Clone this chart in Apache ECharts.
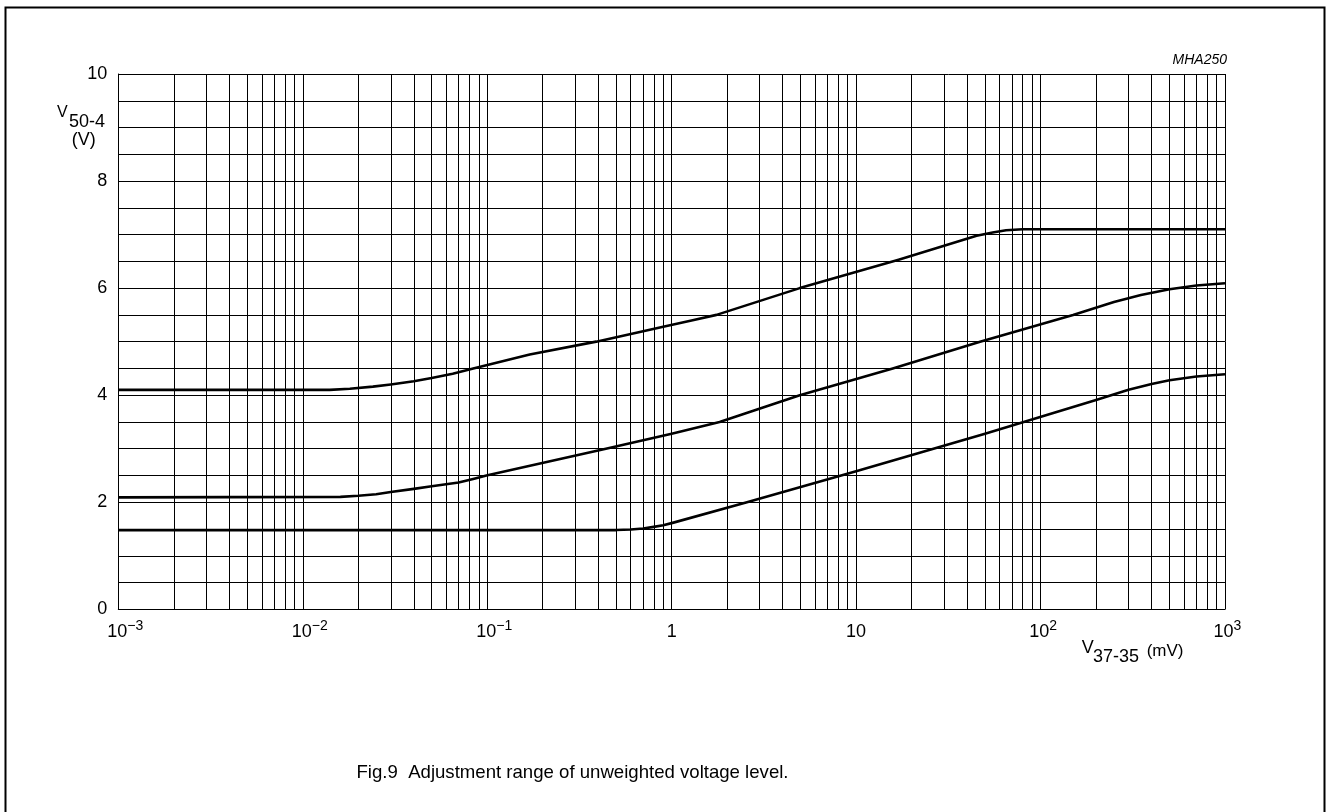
<!DOCTYPE html>
<html>
<head>
<meta charset="utf-8">
<script src="https://cdn.jsdelivr.net/npm/echarts@6/dist/echarts.min.js"></script>
<style>
html,body{margin:0;padding:0;background:#fff;}
#chart{width:1327px;height:812px;}
</style>
</head>
<body>
<div id="chart"></div>
<script>
// ---- data (x in mV, y in V) ----
var curveTopX = [0.001, 0.014, 0.018, 0.024, 0.03, 0.04, 0.05, 0.065, 0.084, 0.17, 0.39, 0.9, 1.3, 1.75, 4.95, 17, 45, 55, 65, 80, 1000];
var curveTopY = [4.10, 4.10, 4.12, 4.16, 4.20, 4.26, 4.32, 4.40, 4.50, 4.76, 5.00, 5.28, 5.40, 5.50, 6.00, 6.53, 6.98, 7.04, 7.08, 7.10, 7.10];

var curveMidX = [0.001, 0.016, 0.02, 0.025, 0.03, 0.04, 0.05, 0.07, 0.085, 0.099, 0.44, 1.0, 1.82, 4.95, 15.8, 47, 150, 250, 350, 500, 700, 1000];
var curveMidY = [2.09, 2.10, 2.12, 2.15, 2.19, 2.25, 2.30, 2.37, 2.44, 2.50, 3.00, 3.28, 3.50, 4.00, 4.50, 5.00, 5.50, 5.74, 5.87, 5.98, 6.05, 6.09];

var curveLowX = [0.001, 0.5, 0.6, 0.7, 0.8, 0.9, 1.0, 2.56, 10, 50, 200, 300, 400, 500, 700, 1000];
var curveLowY = [1.48, 1.48, 1.49, 1.51, 1.54, 1.57, 1.61, 2.00, 2.58, 3.28, 3.91, 4.10, 4.21, 4.28, 4.35, 4.39];

// ---- ticks ----
var xDecades = [0.001, 0.01, 0.1, 1, 10, 100, 1000];
var xTickLabels = ['{bn|10}{sn|\u22123}', '{bn|10}{sn|\u22122}', '{bn|10}{sn|\u22121}', '{b|1}', '{b|10}', '{bp|10}{sp|2}', '{bp|10}{sp|3}'];
var minorMultipliers = [2, 3, 4, 5, 6, 7, 8, 9];
var yTickLabels = ['0', '2', '4', '6', '8', '10'];
var yMin = 0, yMax = 10;

function zip(xs, ys) { return xs.map(function (x, i) { return [x, ys[i]]; }); }

var minorGrid = [];
xDecades.slice(0, -1).forEach(function (d) {
  minorMultipliers.forEach(function (m) {
    var v = d * m;
    minorGrid.push([{ coord: [v, yMin] }, { coord: [v, yMax] }]);
  });
});

var FONT = 'Liberation Sans, Arial, Helvetica, sans-serif';
var chart = echarts.init(document.getElementById('chart'), null, { renderer: 'canvas' });

var curveStyle = {
  type: 'line', showSymbol: false, symbol: 'none', smooth: false,
  lineStyle: { color: '#000', width: 2.6, join: 'round' }, silent: true, z: 5
};

chart.setOption({
  animation: false,
  backgroundColor: '#fff',
  grid: { left: 118.3, top: 74, right: 1327 - 1225, bottom: 812 - 609.3, containLabel: false },
  xAxis: {
    type: 'log', logBase: 10, min: 0.001, max: 1000, splitNumber: 6,
    axisLine: { show: true, lineStyle: { color: '#000', width: 1 } },
    axisTick: { show: false },
    splitLine: { show: true, lineStyle: { color: '#000', width: 1 } },
    axisLabel: {
      margin: 10, color: '#000', fontFamily: FONT, fontSize: 18,
      formatter: function (v) {
        var e = Math.round(Math.log10(v));
        return xTickLabels[e + 3];
      },
      rich: {
        b: { fontSize: 18, fontFamily: FONT, color: '#000', lineHeight: 26 },
        bn: { fontSize: 18, fontFamily: FONT, color: '#000', lineHeight: 26, padding: [0, 0, 0, 14] },
        bp: { fontSize: 18, fontFamily: FONT, color: '#000', lineHeight: 26, padding: [0, 0, 0, 5] },
        sn: { fontSize: 14, fontFamily: FONT, color: '#000', lineHeight: 14, verticalAlign: 'top' },
        sp: { fontSize: 14, fontFamily: FONT, color: '#000', lineHeight: 14, verticalAlign: 'top' }
      }
    }
  },
  yAxis: {
    type: 'value', min: yMin, max: yMax, interval: 0.5,
    axisLine: { show: true, lineStyle: { color: '#000', width: 1 } },
    axisTick: { show: false },
    splitLine: { show: true, lineStyle: { color: '#000', width: 1 } },
    axisLabel: {
      margin: 11, color: '#000', fontFamily: FONT, fontSize: 18,
      formatter: function (v) {
        var s = String(Math.round(v * 10) / 10);
        return yTickLabels.indexOf(s) >= 0 ? s : '';
      }
    }
  },
  series: [
    {
      type: 'line', data: [[0.001, 0], [1000, 0]], silent: true, z: 1,
      symbol: 'none', lineStyle: { opacity: 0 },
      markLine: {
        silent: true, symbol: ['none', 'none'], label: { show: false },
        lineStyle: { color: '#000', width: 1, type: 'solid' },
        emphasis: { disabled: true },
        animation: false,
        data: minorGrid
      }
    },
    Object.assign({ name: 'top', data: zip(curveTopX, curveTopY) }, curveStyle),
    Object.assign({ name: 'mid', data: zip(curveMidX, curveMidY) }, curveStyle),
    Object.assign({ name: 'low', data: zip(curveLowX, curveLowY) }, curveStyle)
  ],
  graphic: [
    { type: 'rect', shape: { x: 5.5, y: 7.5, width: 1319, height: 830 }, style: { fill: 'none', stroke: '#000', lineWidth: 2 }, silent: true },
    { type: 'text', x: 1227, y: 60.5, style: { text: 'MHA250', font: 'italic 14px ' + FONT, fill: '#000', textAlign: 'right', textVerticalAlign: 'middle' } },
    { type: 'text', x: 57, y: 112.5, style: { text: 'V', font: '16px ' + FONT, fill: '#000', textAlign: 'left', textVerticalAlign: 'middle' } },
    { type: 'text', x: 69, y: 121.7, style: { text: '50-4', font: '18px ' + FONT, fill: '#000', textAlign: 'left', textVerticalAlign: 'middle' } },
    { type: 'text', x: 71.7, y: 140, style: { text: '(V)', font: '18px ' + FONT, fill: '#000', textAlign: 'left', textVerticalAlign: 'middle' } },
    { type: 'text', x: 1081.7, y: 648.3, style: { text: 'V', font: '18px ' + FONT, fill: '#000', textAlign: 'left', textVerticalAlign: 'middle' } },
    { type: 'text', x: 1093, y: 657.5, style: { text: '37-35', font: '18px ' + FONT, fill: '#000', textAlign: 'left', textVerticalAlign: 'middle' } },
    { type: 'text', x: 1146.7, y: 651, style: { text: '(mV)', font: '17px ' + FONT, fill: '#000', textAlign: 'left', textVerticalAlign: 'middle' } },
    { type: 'text', x: 572.5, y: 773.3, style: { text: 'Fig.9  Adjustment range of unweighted voltage level.', font: '18.6px ' + FONT, fill: '#000', textAlign: 'center', textVerticalAlign: 'middle' } }
  ]
});
</script>
</body>
</html>
